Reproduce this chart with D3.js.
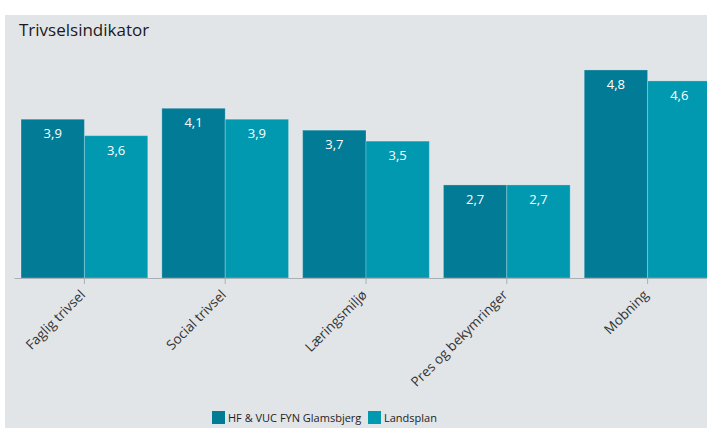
<!DOCTYPE html>
<html>
<head>
<meta charset="utf-8">
<script src="https://cdn.jsdelivr.net/npm/d3@7"></script>
<style>
  body { margin: 0; background: #fff; }
  svg text { font-family: "Open Sans", sans-serif; }
</style>
</head>
<body>
<div id="chart"></div>
<script>
var categories = ["Faglig trivsel", "Social trivsel", "Læringsmiljø", "Pres og bekymringer", "Mobning"];
var seriesNames = ["HF & VUC FYN Glamsbjerg", "Landsplan"];
var glamsbjerg = [3.9, 4.1, 3.7, 2.7, 4.8];
var landsplan = [3.6, 3.9, 3.5, 2.7, 4.6];
var colors = ["#027b97", "#0199b0"];

var W = 707, H = 429;

var svg = d3.select("#chart").append("svg")
    .attr("width", W)
    .attr("height", H);

// grey panel
svg.append("rect")
    .attr("x", 5).attr("y", 15)
    .attr("width", W - 5).attr("height", 413)
    .attr("fill", "#e2e5e8");

svg.append("text")
    .attr("x", 19).attr("y", 36)
    .attr("font-size", 17)
    .attr("fill", "#1a1a1a")
    .text("Trivselsindikator");

var x = d3.scaleBand()
    .domain(categories)
    .range([14, 718])
    .paddingInner(0.1)
    .paddingOuter(0.05);

var xs = d3.scaleBand()
    .domain(seriesNames)
    .range([0, x.bandwidth()]);

var y = d3.scaleLinear()
    .domain([1, 5])
    .range([278, 59]);

var rows = categories.map(function (c, i) {
    return { cat: c, values: [glamsbjerg[i], landsplan[i]] };
});

var groups = svg.selectAll(".grp")
    .data(rows)
    .enter()
    .append("g")
    .attr("transform", function (d) { return "translate(" + x(d.cat) + ",0)"; });

var bars = groups.selectAll("g")
    .data(function (d) {
        return d.values.map(function (v, j) { return { name: seriesNames[j], value: v, j: j }; });
    })
    .enter()
    .append("g");

bars.append("rect")
    .attr("x", function (d) { return xs(d.name); })
    .attr("y", function (d) { return y(d.value); })
    .attr("width", xs.bandwidth())
    .attr("height", function (d) { return y(1) - y(d.value); })
    .attr("fill", function (d) { return colors[d.j]; })
    .attr("stroke", "rgba(255,255,255,0.25)")
    .attr("stroke-width", 1);

//value label near the top of each bar
bars.append("text")
    .attr("x", function (d) { return xs(d.name) + xs.bandwidth() / 2; })
    .attr("y", function (d) { return y(d.value) + 19; })
    .attr("text-anchor", "middle")
    .attr("font-size", 13)
    .attr("fill", "#ffffff")
    .text(function (d) { return String(d.value.toFixed(1)).replace(".", ","); });

var xAxis = d3.axisBottom(x)
    .tickSize(6)
    .tickSizeOuter(0);

var gx = svg.append("g")
    .attr("transform", "translate(0," + y(1) + ")")
    .call(xAxis);

gx.select(".domain").attr("stroke", "#a9b0b6");
gx.selectAll(".tick line").attr("stroke", "#a9b0b6");
gx.selectAll(".tick text")
    .attr("font-family", "Open Sans, sans-serif")
    .attr("font-size", 13.5)
    .attr("fill", "#333")
    .attr("text-anchor", "end")
    .attr("dy", "0.35em")
    .attr("transform", "translate(-8,8) rotate(-45)");

// legend
var legend = svg.append("g");
var lx = [212, 368];
seriesNames.forEach(function (n, i) {
    legend.append("rect")
        .attr("x", lx[i]).attr("y", 411)
        .attr("width", 13).attr("height", 13)
        .attr("fill", colors[i]);
    legend.append("text")
        .attr("x", lx[i] + 16).attr("y", 422)
        .attr("font-size", 11)
        .attr("fill", "#222")
        .text(n);
});
</script>
</body>
</html>
